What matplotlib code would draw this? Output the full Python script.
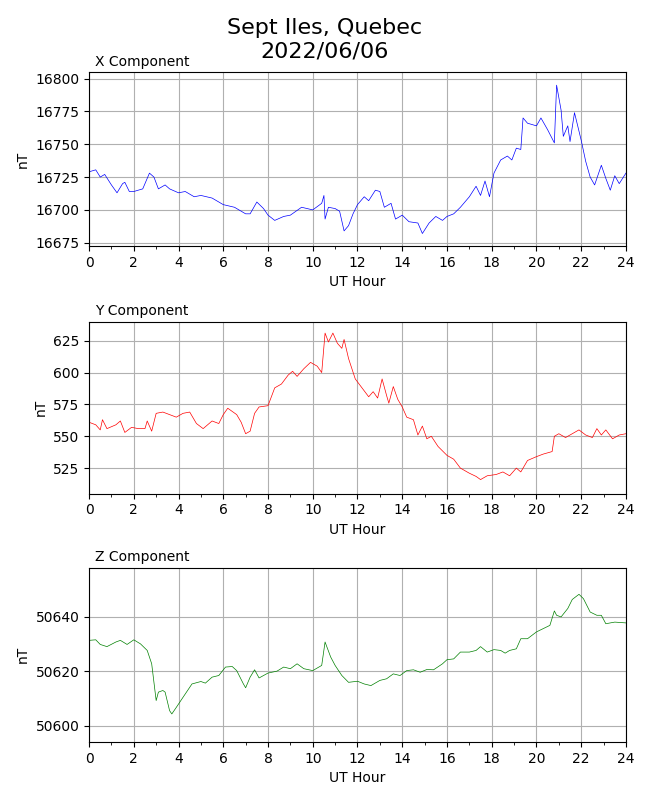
from matplotlib import pyplot as plt
from matplotlib.ticker import MultipleLocator

# UT hours and readings (nT)
x_hours = [0, 0.3, 0.5, 0.7, 1.0, 1.25, 1.5, 1.6, 1.8, 2.0, 2.4, 2.7, 2.9, 3.1, 3.4, 3.6,
           4.0, 4.3, 4.7, 5.0, 5.5, 6.0, 6.5, 7.0, 7.2, 7.5, 7.8, 8.0, 8.3, 8.7, 9.0, 9.5,
           10.0, 10.4, 10.5, 10.55, 10.7, 11.0, 11.2, 11.4, 11.6, 11.8, 12.0, 12.3, 12.5,
           12.8, 13.0, 13.2, 13.5, 13.7, 14.0, 14.3, 14.7, 14.9, 15.2, 15.5, 15.8, 16.0,
           16.3, 16.6, 17.0, 17.3, 17.5, 17.7, 17.9, 18.1, 18.4, 18.7, 18.9, 19.1, 19.3,
           19.4, 19.6, 19.8, 20.0, 20.2, 20.5, 20.8, 20.9, 21.1, 21.2, 21.4, 21.5, 21.7,
           21.9, 22.0, 22.2, 22.4, 22.6, 22.9, 23.1, 23.3, 23.5, 23.7, 24.0]
x_vals = [16729, 16730.5, 16725, 16727, 16719, 16713, 16720, 16721, 16714, 16714, 16716,
          16728, 16725, 16716, 16719, 16716, 16713, 16714, 16710, 16711, 16709, 16704,
          16702, 16697, 16697, 16706, 16701, 16696, 16692, 16695, 16696, 16702, 16700,
          16705, 16711, 16693, 16702, 16701, 16699, 16684, 16688, 16697, 16704, 16710,
          16707, 16715, 16714, 16702, 16705, 16693, 16696, 16691, 16690, 16682, 16690,
          16695, 16692, 16695, 16697, 16702, 16710, 16718, 16711, 16722, 16710, 16728,
          16738, 16741, 16738, 16747, 16746, 16770, 16766, 16765, 16764, 16770, 16761,
          16751, 16795, 16776, 16756, 16764, 16752, 16774, 16760, 16753, 16737, 16725,
          16719, 16734, 16724, 16715, 16726, 16720, 16728]

y_hours = [0, 0.3, 0.5, 0.6, 0.8, 1.2, 1.4, 1.6, 1.9, 2.2, 2.5, 2.6, 2.8, 3.0, 3.3, 3.6,
           3.9, 4.2, 4.5, 4.8, 5.1, 5.5, 5.8, 6.0, 6.2, 6.6, 6.8, 7.0, 7.2, 7.4, 7.6, 8.0,
           8.3, 8.6, 8.9, 9.1, 9.3, 9.6, 9.9, 10.2, 10.4, 10.55, 10.7, 10.9, 11.1, 11.3,
           11.4, 11.6, 11.9, 12.2, 12.5, 12.7, 12.9, 13.1, 13.3, 13.4, 13.6, 13.8, 14.0,
           14.2, 14.5, 14.7, 14.9, 15.1, 15.3, 15.6, 16.0, 16.3, 16.6, 17.0, 17.3, 17.5,
           17.8, 18.2, 18.5, 18.8, 19.1, 19.3, 19.6, 20.0, 20.3, 20.7, 20.8, 21.0, 21.3,
           21.6, 21.9, 22.2, 22.5, 22.7, 22.9, 23.1, 23.4, 23.7, 24.0]
y_vals = [561, 559, 555, 563, 556, 559, 562, 553, 557, 556, 556, 562, 554, 568, 569, 567,
          565, 568, 569, 560, 556, 562, 560, 567, 572, 567, 561, 552, 554, 568, 573, 574,
          588, 591, 598, 601, 597, 603, 608, 605, 600, 631, 624, 631, 623, 619, 626, 611,
          595, 588, 581, 585, 580, 595, 582, 576, 589, 579, 573, 565, 563, 551, 558, 548,
          550, 542, 535, 532, 525, 521, 518.5, 516, 519, 520, 522, 519, 525, 522, 531,
          534, 536, 538, 550, 552, 549, 552, 555, 551, 549, 556, 551, 555, 548, 551, 552]

z_hours = [0, 0.3, 0.5, 0.8, 1.2, 1.4, 1.7, 2.0, 2.3, 2.6, 2.8, 3.0, 3.1, 3.3, 3.4, 3.6,
           3.7, 3.9, 4.2, 4.6, 5.0, 5.2, 5.5, 5.8, 6.1, 6.4, 6.6, 6.9, 7.0, 7.2, 7.4, 7.6,
           8.0, 8.4, 8.7, 9.0, 9.3, 9.6, 10.0, 10.4, 10.55, 10.8, 11.0, 11.3, 11.6, 12.0,
           12.3, 12.6, 13.0, 13.3, 13.6, 13.9, 14.2, 14.5, 14.8, 15.1, 15.4, 15.8, 16.0,
           16.3, 16.6, 17.0, 17.3, 17.5, 17.8, 18.1, 18.4, 18.6, 18.8, 19.1, 19.3, 19.6,
           20.0, 20.3, 20.6, 20.8, 20.9, 21.1, 21.4, 21.6, 21.9, 22.1, 22.4, 22.7, 22.9,
           23.1, 23.5, 24.0]
z_vals = [50631.3, 50631.5, 50629.8, 50629, 50630.7, 50631.3, 50629.8, 50631.5, 50630,
          50627.6, 50622.7, 50609.2, 50612.3, 50612.9, 50612.3, 50605.5, 50604.3, 50606.7,
          50610.4, 50615.3, 50616.2, 50615.6, 50617.8, 50618.4, 50621.5, 50621.7, 50620.2,
          50615.3, 50613.9, 50617.8, 50620.5, 50617.5, 50619.3, 50620, 50621.5, 50620.9,
          50622.7, 50620.9, 50620.2, 50622.1, 50630.7, 50625.2, 50622.1, 50618.4, 50615.9,
          50616.3, 50615.3, 50614.7, 50616.6, 50617.2, 50619.0, 50618.4, 50620.2, 50620.5,
          50619.6, 50620.6, 50620.5, 50622.7, 50624.2, 50624.5, 50627.0, 50627.0, 50627.6,
          50629, 50627.0, 50627.9, 50627.6, 50626.6, 50627.6, 50628.2, 50631.9, 50631.9,
          50634.4, 50635.6, 50636.8, 50642.1, 50640.5, 50639.9, 50643, 50646.3, 50648.2,
          50646.6, 50641.7, 50640.5, 50640.5, 50637.4, 50638.0, 50637.7]

fig = plt.figure(figsize=(6.5, 8), dpi=100)
fig.suptitle('Sept Iles, Quebec\n2022/06/06', fontsize=16, y=0.977)

panels = [
    ('X Component', x_hours, x_vals, 'blue', (16672.5, 16805), [0.137, 0.6925, 0.826, 0.2175]),
    ('Y Component', y_hours, y_vals, 'red', (505, 640), [0.137, 0.383, 0.826, 0.215]),
    ('Z Component', z_hours, z_vals, 'green', (50594, 50658), [0.137, 0.0725, 0.826, 0.218]),
]

for name, hrs, vals, col, ylim, rect in panels:
    ax = fig.add_axes(rect)
    ax.plot(hrs, vals, color=col, linewidth=0.5)
    ax.set_xlim(0, 24)
    ax.set_ylim(*ylim)
    ax.xaxis.set_major_locator(MultipleLocator(2))
    ax.xaxis.set_minor_locator(MultipleLocator(1))
    ax.grid(True, which='major', color='#b0b0b0')
    ax.set_xlabel('UT Hour')
    ax.set_ylabel('nT')
    ax.text(0.012, 1.02, name, transform=ax.transAxes, fontsize=10, ha='left', va='bottom')

plt.savefig('out.png')
